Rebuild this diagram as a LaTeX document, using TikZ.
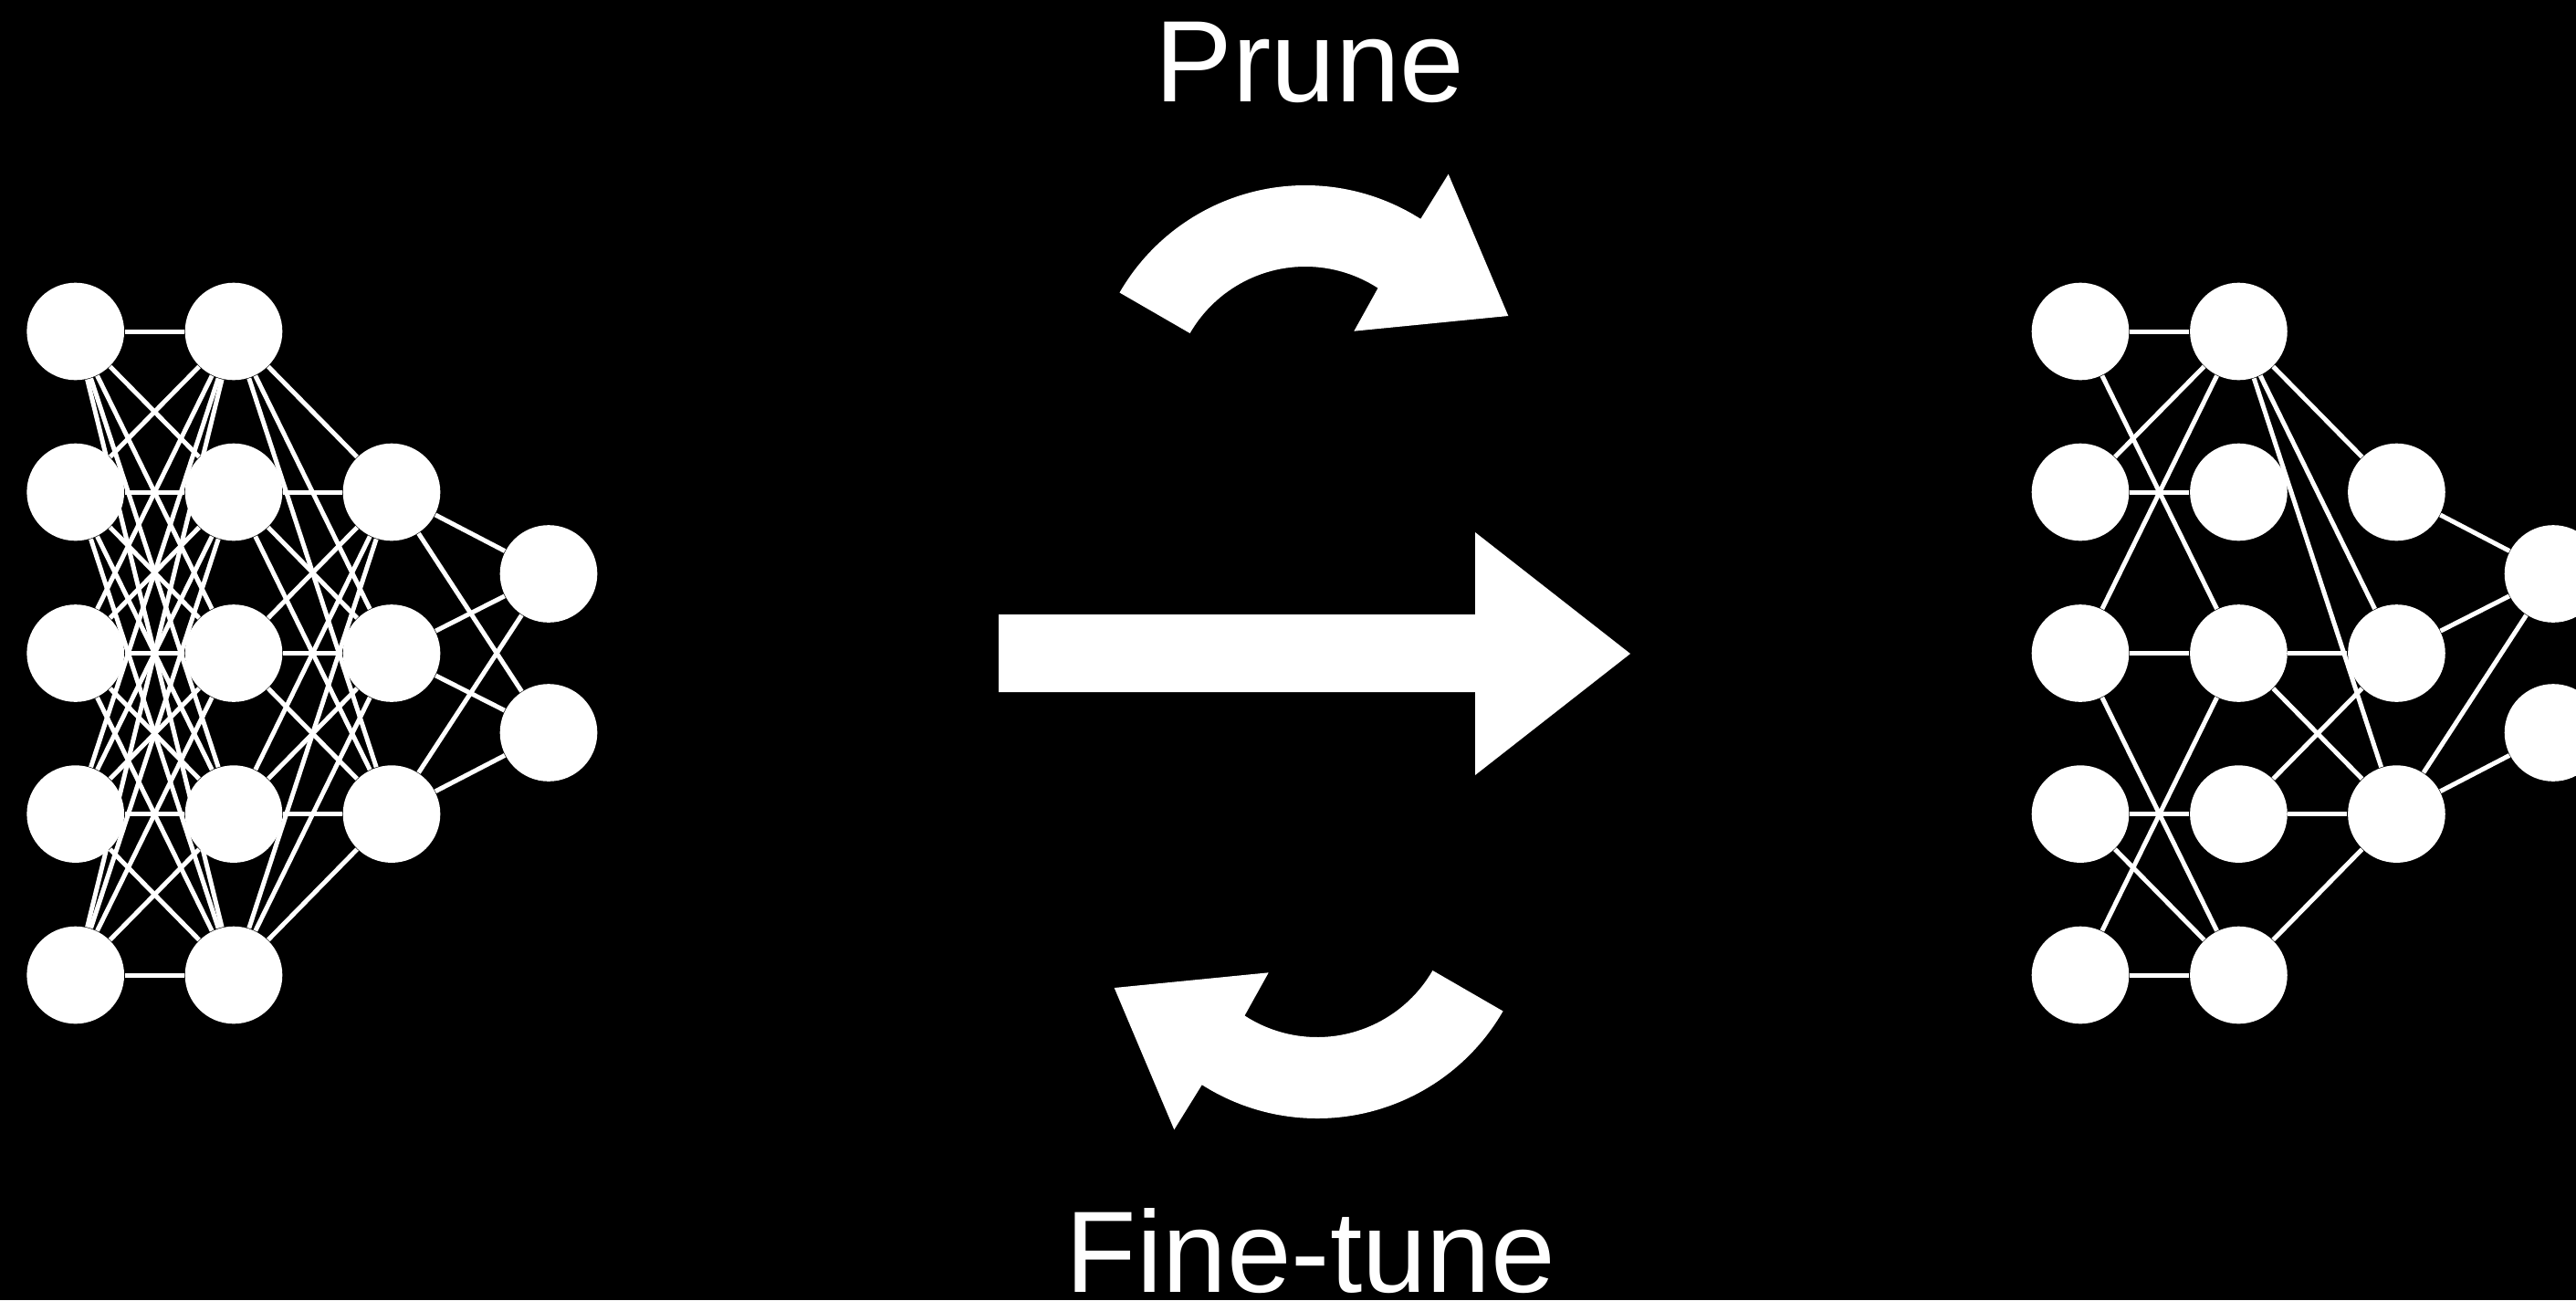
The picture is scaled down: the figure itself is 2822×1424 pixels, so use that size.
\documentclass[tikz,border=0pt]{standalone}
\usepackage{fontspec}
\setmainfont{Liberation Sans}
\usetikzlibrary{calc}
\begin{document}
\begin{tikzpicture}[x=0.01cm,y=-0.01cm,
  neuron/.style={circle,fill=white,draw=none,inner sep=0pt,minimum size=1.066cm},
  link/.style={draw=white,line width=0.05cm},
  bigarrow/.style={fill=white,draw=none},
  lab/.style={text=white,font=\fontsize{36.1}{40}\selectfont,inner sep=0pt,anchor=base}]
\fill[black] (0,0) rectangle (2822,1424);
\useasboundingbox (0,0) rectangle (2822,1424);
\clip (0,0) rectangle (2822,1424);
% row positions
\def\ra{363}\def\rb{539}\def\rc{715.5}\def\rd{891.6}\def\re{1068}
% ---------- left (dense) network ----------
\foreach \r/\y in {1/\ra,2/\rb,3/\rc,4/\rd,5/\re}{
  \node[neuron] (La\r) at (82.7,\y) {};
  \node[neuron] (Lb\r) at (256,\y) {};
}
\foreach \r/\y in {2/\rb,3/\rc,4/\rd}{
  \node[neuron] (Lc\r) at (429,\y) {};
}
\node[neuron] (Ld1) at (601,628.5) {};
\node[neuron] (Ld2) at (601,802.5) {};
\foreach \i in {1,...,5}{\foreach \j in {1,...,5}{\draw[link] (La\i) -- (Lb\j);}}
\foreach \i in {1,...,5}{\foreach \j in {2,3,4}{\draw[link] (Lb\i) -- (Lc\j);}}
\foreach \i in {2,3,4}{\foreach \j in {1,2}{\draw[link] (Lc\i) -- (Ld\j);}}
% ---------- right (pruned) network ----------
\foreach \r/\y in {1/\ra,2/\rb,3/\rc,4/\rd,5/\re}{
  \node[neuron] (Ra\r) at (2279,\y) {};
  \node[neuron] (Rb\r) at (2452.4,\y) {};
}
\foreach \r/\y in {2/\rb,3/\rc,4/\rd}{
  \node[neuron] (Rc\r) at (2625.4,\y) {};
}
\node[neuron] (Rd1) at (2797,628.5) {};
\node[neuron] (Rd2) at (2797,802.5) {};
\foreach \p/\q in {Ra1/Rb1,Ra1/Rb3,Rb1/Ra2,Rb1/Ra3,Rb1/Rc2,Rb1/Rc3,Rb1/Rc4,
  Ra2/Rb2,Ra3/Rb3,Rb3/Rc3,Rb3/Rc4,Rb3/Ra5,Ra3/Rb5,Ra4/Rb4,Rb4/Rc3,Rb4/Rc4,
  Ra4/Rb5,Ra5/Rb5,Rb5/Rc4,Rc2/Rd1,Rc3/Rd1,Rc4/Rd1,Rc4/Rd2}{
  \draw[link] (\p) -- (\q);
}
% ---------- main arrow ----------
\fill[bigarrow] (1094,673) -- (1616,673) -- (1616,583) -- (1786,716)
  -- (1616,849) -- (1616,758) -- (1094,758) -- cycle;
% ---------- curved arrows ----------
\coordinate (tc) at (1430,438);
\def\TurnArrowPath{(tc) ++(-150:235) arc[start angle=-150,end angle=-57.5,radius=235]
  -- (1586.7,190.7) -- (1652.3,346) -- (1483.3,362.7)
  -- ($(tc)+(-57:146)$) arc[start angle=-57,end angle=-150,radius=146] -- cycle}
\fill[bigarrow] \TurnArrowPath;
\begin{scope}[rotate around={180:(1436.5,714)}]
  \coordinate (tc) at (1430,438);
  \fill[bigarrow] \TurnArrowPath;
\end{scope}
% ---------- labels ----------
\node[lab] (prune) at (1435,111) {Prune};
\node[lab] (finetune) at (1436,1415) {Fine-tune};
\end{tikzpicture}
\end{document}
